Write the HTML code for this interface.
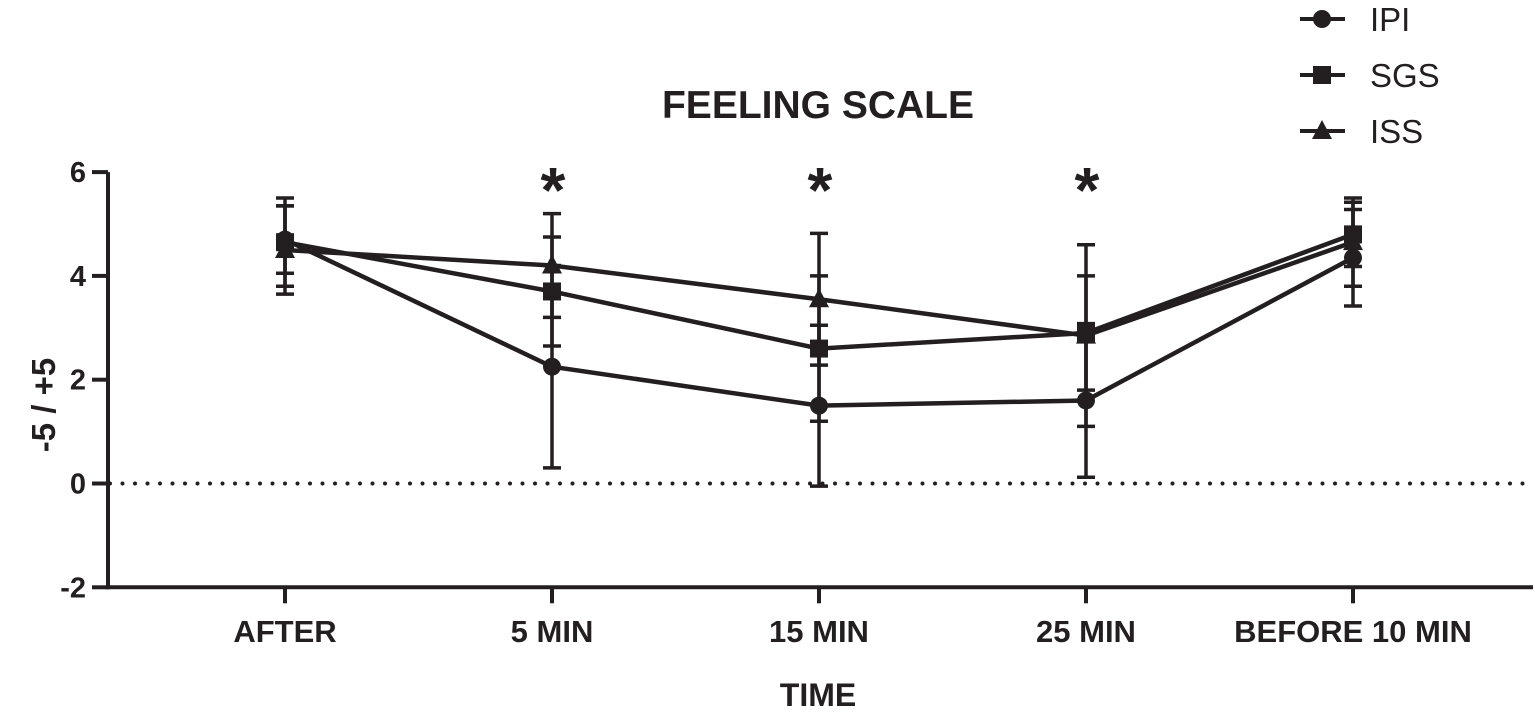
<!DOCTYPE html>
<html><head><meta charset="utf-8"><style>
body{margin:0;background:#fff;}
svg{display:block;font-family:"Liberation Sans",Arial,sans-serif;}
</style></head><body>
<svg id="chart" width="1535" height="720">
<text x="818" y="118" text-anchor="middle" font-size="39" font-weight="bold" fill="#231f20">FEELING SCALE</text>
<text x="818" y="706" text-anchor="middle" font-size="32" font-weight="bold" fill="#231f20">TIME</text>
<text transform="translate(55,405) rotate(-90)" text-anchor="middle" font-size="33" font-weight="bold" fill="#231f20">-5 / +5</text>
<g id="axes"></g><g id="marks"></g><g id="legend"></g>
</svg>
<script>
const categories=["AFTER","5 MIN","15 MIN","25 MIN","BEFORE 10 MIN"];
const yTicks=[-2,0,2,4,6];
const seriesNames=["IPI","SGS","ISS"];
const ipiMean=[4.7,2.25,1.5,1.6,4.35];
const ipiSD=[0.65,1.95,1.55,1.48,0.93];
const sgsMean=[4.65,3.7,2.6,2.9,4.8];
const sgsSD=[0.85,1.05,1.4,1.1,0.62];
const issMean=[4.5,4.2,3.55,2.85,4.65];
const issSD=[0.85,1.0,1.27,1.75,0.85];
const sigFlags=[0,1,1,1,0];

const NS="http://www.w3.org/2000/svg";
const xPos=i=>285+i*267;
const yPos=v=>483.5-v*51.9;
const C="#231f20";
function mk(t,a,p){const e=document.createElementNS(NS,t);for(const k in a)e.setAttribute(k,a[k]);p.appendChild(e);return e;}
const axes=document.getElementById('axes'),marks=document.getElementById('marks'),legend=document.getElementById('legend');
let e=mk('line',{x1:108,y1:yPos(6),x2:108,y2:yPos(-2)+2,stroke:C,'stroke-width':4},axes);

e=mk('line',{x1:106,y1:yPos(-2),x2:1533,y2:yPos(-2),stroke:C,'stroke-width':4},axes);

e=mk('line',{x1:110,y1:yPos(0),x2:1533,y2:yPos(0),stroke:C,'stroke-width':4,'stroke-dasharray':'0 12.5','stroke-linecap':'round'},axes);

yTicks.forEach(v=>{
 let t=mk('line',{x1:92,x2:108,y1:yPos(v),y2:yPos(v),stroke:C,'stroke-width':4},axes);
 
 let l=mk('text',{x:86,y:yPos(v)+10,'text-anchor':'end','font-size':29,'font-weight':'bold',fill:C},axes);
 l.textContent=v;
});
categories.forEach((c,i)=>{
 let t=mk('line',{x1:xPos(i),x2:xPos(i),y1:yPos(-2),y2:yPos(-2)+16,stroke:C,'stroke-width':4},axes);
 
 let l=mk('text',{x:xPos(i),y:642,'text-anchor':'middle','font-size':31,'font-weight':'bold',fill:C},axes);
 l.textContent=c;
 if(sigFlags[i]){let s=mk('text',{x:xPos(i)+1,y:212,'text-anchor':'middle','font-size':64,'font-weight':'bold',fill:C},axes);
  s.textContent='*';}
});
const series=[[ipiMean,ipiSD,'circle'],[sgsMean,sgsSD,'square'],[issMean,issSD,'triangle']];
function marker(shape,x,y,p){
 if(shape==='circle')return mk('circle',{cx:x,cy:y,r:9,fill:C},p);
 if(shape==='square')return mk('rect',{x:x-9,y:y-9,width:18,height:18,fill:C},p);
 return mk('polygon',{points:`${x},${y-11} ${x-10},${y+8} ${x+10},${y+8}`,fill:C},p);
}
series.forEach(([m,sd,shape],si)=>{
 m.forEach((v,i)=>{
  const x=xPos(i);
  let b=mk('path',{d:`M${x},${yPos(v+sd[i])}V${yPos(v-sd[i])}M${x-9},${yPos(v+sd[i])}h18M${x-9},${yPos(v-sd[i])}h18`,stroke:C,'stroke-width':3.5,fill:'none'},marks);
  
 });
 let pl=mk('polyline',{points:m.map((v,i)=>xPos(i)+','+yPos(v)).join(' '),stroke:C,'stroke-width':4.5,fill:'none'},marks);
 
 m.forEach((v,i)=>{let k=marker(shape,xPos(i),yPos(v),marks);
  });
 const ly=19+si*56;
 let g=mk('g',{},legend);
 
 mk('line',{x1:1300,x2:1345,y1:ly,y2:ly,stroke:C,'stroke-width':4},g);
 marker(shape,1322,ly,g);
 let t=mk('text',{x:1370,y:ly+12,'font-size':33,fill:C},g);t.textContent=seriesNames[si];
});
</script>
</body></html>
